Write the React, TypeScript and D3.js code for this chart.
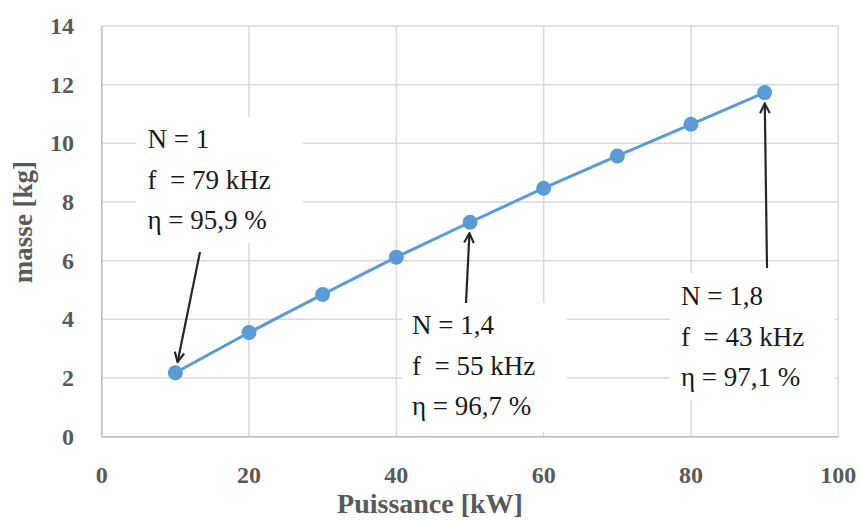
import React from "react";
import * as d3 from "d3";

const puissance = [10, 20, 30, 40, 50, 60, 70, 80, 90];
const masse = [2.18, 3.55, 4.85, 6.12, 7.31, 8.47, 9.57, 10.65, 11.73];
const xTicks = [0, 20, 40, 60, 80, 100];
const yTicks = [0, 2, 4, 6, 8, 10, 12, 14];
const annotLines = [
  ["N = 1", "f  = 79 kHz", "η = 95,9 %"],
  ["N = 1,4", "f  = 55 kHz", "η = 96,7 %"],
  ["N = 1,8", "f  = 43 kHz", "η = 97,1 %"],
];
const annotTarget = [0, 4, 8];

export default function App() {
  const W = 859, H = 521;
  const x = d3.scaleLinear().domain([0, 100]).range([101.7, 838.3]);
  const y = d3.scaleLinear().domain([0, 14]).range([436.7, 26]);
  const line = d3.line<number>().x((_, i) => x(puissance[i])).y((d) => y(d));
  const font = "Liberation Serif";
  const gray = "#595959";

  const boxes = [
    { x0: 136, y0: 117, x1: 303, y1: 243, tx: 147.5, ty: 148, ax: 200, ay: 252 },
    { x0: 402, y0: 303, x1: 567, y1: 432, tx: 412, ty: 334, ax: 466, ay: 303 },
    { x0: 670, y0: 273, x1: 835, y1: 400, tx: 681, ty: 305, ax: 767, ay: 268 },
  ];

  return (
    <svg width={W} height={H} style={{ position: "absolute", left: 0, top: 0, background: "#fff" }}>
      <defs>
        <marker id="arr" viewBox="0 0 10 10" refX="9" refY="5" markerWidth="12" markerHeight="12" orient="auto" markerUnits="userSpaceOnUse">
          <path d="M1,1 L9,5 L1,9" fill="none" stroke="#262626" strokeWidth="1.8" />
        </marker>
      </defs>
      <rect x={0} y={0} width={W} height={H} fill="#fff" />
      {yTicks.map((t) => (
        <line key={"gy" + t} x1={x(0)} x2={x(100)} y1={y(t)} y2={y(t)} stroke="#d9d9d9" strokeWidth={1.5} />
      ))}
      {xTicks.map((t) => (
        <line key={"gx" + t} x1={x(t)} x2={x(t)} y1={y(0)} y2={y(14)} stroke="#d9d9d9" strokeWidth={1.5} />
      ))}
      <line x1={x(0)} x2={x(100)} y1={y(0)} y2={y(0)} stroke="#bfbfbf" strokeWidth={1.5} />
      <line x1={x(0)} x2={x(0)} y1={y(0)} y2={y(14)} stroke="#bfbfbf" strokeWidth={1.5} />
      {yTicks.map((t) => (
        <text key={"ty" + t} x={74} y={y(t) + 8} textAnchor="end" fontFamily={font} fontWeight="bold" fontSize={24} fill={gray}>
          {t}
        </text>
      ))}
      {xTicks.map((t) => (
        <text key={"tx" + t} x={x(t)} y={483} textAnchor="middle" fontFamily={font} fontWeight="bold" fontSize={24} fill={gray}>
          {t}
        </text>
      ))}
      <text transform={`translate(32,222) rotate(-90)`} textAnchor="middle" fontFamily={font} fontWeight="bold" fontSize={27} fill={gray}>
        masse [kg]
      </text>
      <text x={430} y={513} textAnchor="middle" fontFamily={font} fontWeight="bold" fontSize={28} fill={gray}>
        Puissance [kW]
      </text>
      <path d={line(masse) || ""} fill="none" stroke="#5b9bd5" strokeWidth={3} />
      {masse.map((v, i) => (
        <circle key={"p" + i} cx={x(puissance[i])} cy={y(v)} r={7.5} fill="#5b9bd5" />
      ))}
      {boxes.map((b, k) => {
        const ti = annotTarget[k];
        const px = x(puissance[ti]);
        const py = y(masse[ti]);
        const dx = px - b.ax, dy = py - b.ay;
        const len = Math.hypot(dx, dy);
        const ex = px - (dx / len) * 11, ey = py - (dy / len) * 11;
        return (
          <g key={"a" + k}>
            <rect x={b.x0} y={b.y0} width={b.x1 - b.x0} height={b.y1 - b.y0} fill="#fff" />
            {annotLines[k].map((s, j) => (
              <text key={j} x={b.tx} y={b.ty + j * 40.5} fontFamily={font} fontSize={27} fill="#1a1a1a" xmlSpace="preserve" style={{ whiteSpace: "pre" }}>
                {s}
              </text>
            ))}
            <line x1={b.ax} y1={b.ay} x2={ex} y2={ey} stroke="#262626" strokeWidth={2.2} markerEnd="url(#arr)" />
          </g>
        );
      })}
    </svg>
  );
}
